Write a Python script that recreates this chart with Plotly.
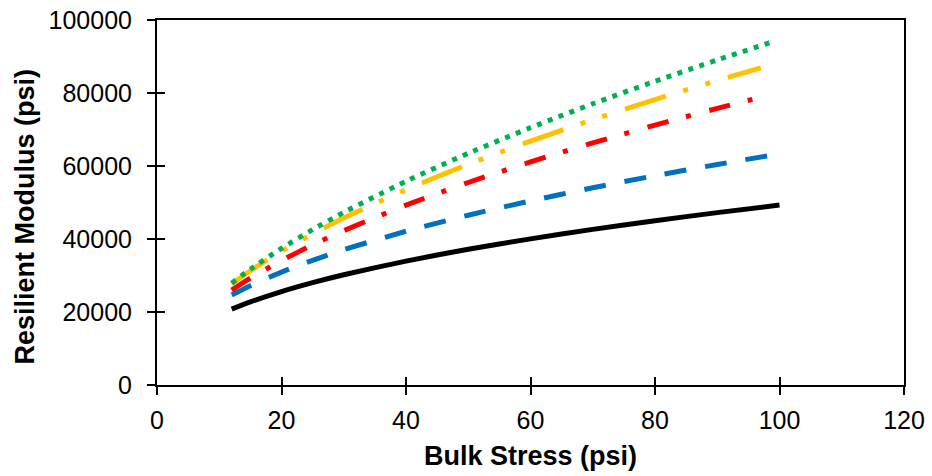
import plotly.graph_objects as go

# Bulk stress (psi) sample points
x_black = [12, 15, 20, 25, 30, 40, 50, 60, 70, 80, 90, 100]
y_black = [20800, 22780, 25610, 28040, 30200, 33950, 37180, 40040, 42640, 45020, 47230, 49300]

x_blue = [12, 15, 20, 25, 30, 40, 50, 60, 70, 80, 90, 100]
y_blue = [24650, 27220, 30940, 34170, 37060, 42120, 46520, 50450, 54030, 57340, 60420, 63320]

x_red = [12, 15, 20, 25, 30, 40, 50, 60, 70, 80, 90, 98]
y_red = [26000, 29270, 34100, 38390, 42290, 49280, 55480, 61110, 66330, 71200, 75790, 79300]

x_yellow = [12, 15, 20, 25, 30, 40, 50, 60, 70, 80, 90, 97]
y_yellow = [27700, 31300, 36630, 41390, 45720, 53520, 60470, 66800, 72680, 78190, 83400, 86880]

x_green = [12, 15, 20, 25, 30, 40, 50, 60, 70, 80, 90, 99]
y_green = [27900, 31730, 37450, 42580, 47300, 55820, 63480, 70500, 77050, 83210, 89050, 94080]

x_ticks = [0, 20, 40, 60, 80, 100, 120]
y_ticks = [0, 20000, 40000, 60000, 80000, 100000]
y_tick_text = ["0", "20000", "40000", "60000", "80000", "100000"]

x_title = "Bulk Stress (psi)"
y_title = "Resilient Modulus (psi)"

series = [
    (x_black, y_black, "#000000", "solid"),
    (x_blue, y_blue, "#0070C0", "22px,19px"),
    (x_red, y_red, "#FF0000", "22px,18px,5px,19px"),
    (x_yellow, y_yellow, "#FFC000", "43px,18px,5px,18px,5px,19px"),
    (x_green, y_green, "#00B050", "5px,6.5px"),
]

fig = go.Figure()
for xs, ys, col, dash in series:
    fig.add_trace(go.Scatter(x=xs, y=ys, mode="lines",
                             line=dict(color=col, width=5, dash=dash, shape="spline", smoothing=0.6),
                             showlegend=False, hoverinfo="skip"))

# invisible trace on overlay axes to draw inner half of crossing ticks
fig.add_trace(go.Scatter(x=[None], y=[None], xaxis="x2", yaxis="y2", showlegend=False, hoverinfo="skip"))

font_family = "Liberation Sans, Arial, sans-serif"
fig.update_layout(
    width=932, height=476,
    margin=dict(l=157, r=28, t=20, b=91, autoexpand=False),
    plot_bgcolor="white", paper_bgcolor="white",
    font=dict(family=font_family, size=25, color="#000000"),
    xaxis=dict(range=[0, 120], tickvals=x_ticks, ticks="outside", ticklen=8, tickwidth=2, tickcolor="black",
               showline=True, linecolor="black", linewidth=2, mirror=True, showgrid=False, zeroline=False,
               ticklabelstandoff=4, tickfont=dict(size=25), automargin=False),
    yaxis=dict(range=[0, 100000], tickvals=y_ticks, ticktext=y_tick_text, ticks="outside", ticklen=8,
               tickwidth=2, tickcolor="black",
               showline=True, linecolor="black", linewidth=2, mirror=True, showgrid=False, zeroline=False,
               ticklabelstandoff=10, tickfont=dict(size=25), automargin=False),
    xaxis2=dict(overlaying="x", range=[0, 120], tickvals=x_ticks, ticks="inside", ticklen=8, tickwidth=2,
                tickcolor="black", showticklabels=False, showline=False, showgrid=False, zeroline=False,
                side="bottom", automargin=False),
    yaxis2=dict(overlaying="y", range=[0, 100000], tickvals=y_ticks, ticks="inside", ticklen=8, tickwidth=2,
                tickcolor="black", showticklabels=False, showline=False, showgrid=False, zeroline=False,
                side="left", automargin=False),
    annotations=[
        dict(text="<b>" + x_title + "</b>", xref="paper", yref="paper", x=0.5, y=0, yshift=-71,
             showarrow=False, font=dict(size=27), xanchor="center", yanchor="middle"),
        dict(text="<b>" + y_title + "</b>", xref="paper", yref="paper", x=0, y=0.5, xshift=-133, yshift=-14,
             textangle=-90, showarrow=False, font=dict(size=27), xanchor="center", yanchor="middle"),
    ],
)

fig.write_html("out.html")
